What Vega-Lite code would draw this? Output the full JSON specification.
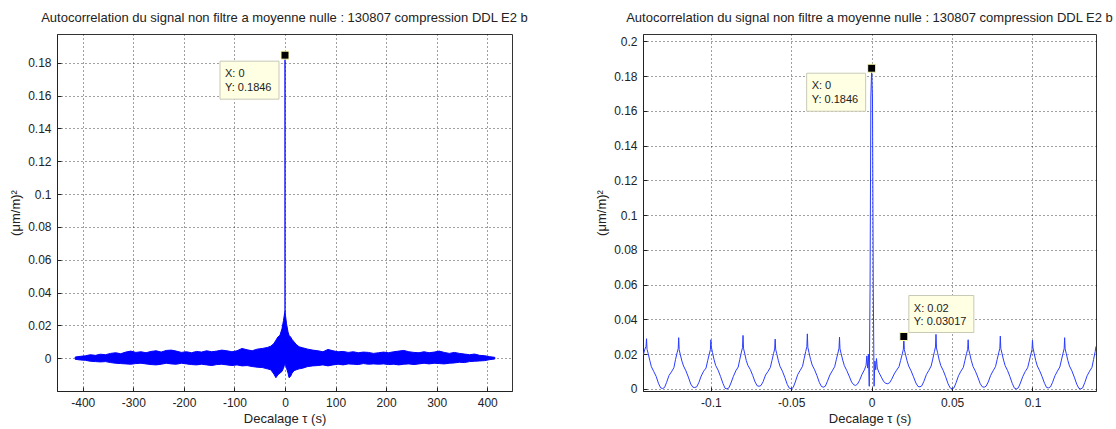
{
  "$schema": "https://vega.github.io/schema/vega-lite/v6.json",
  "background": "white",
  "padding": {"left": 8, "top": 11, "right": 0, "bottom": 0},
  "bounds": "flush",
  "spacing": 131,
  "config": {
    "font": "Liberation Sans",
    "view": {"stroke": "#333", "strokeWidth": 1},
    "axis": {
      "grid": true, "gridColor": "#000", "gridDash": [1, 3], "gridOpacity": 0.75, "gridWidth": 1,
      "domainColor": "#222", "tickColor": "#222", "tickSize": -4, "labelPadding": 10,
      "labelFontSize": 12, "labelColor": "#222", "titleFontSize": 13, "titleFontWeight": "normal", "titleColor": "#222",
      "labelFlush": false, "labelOverlap": false, "tickCount": 20,
      "labelExpr": "replace(format(datum.value, '~g'), '−', '-')"
    },
    "axisY": {"minExtent": 28, "maxExtent": 28, "titlePadding": 7},
    "axisX": {"titlePadding": 4},
    "title": {"fontSize": 13, "fontWeight": "normal", "color": "#222", "offset": 9}
  },
  "datasets": {
    "band": [
      {"tau": -415, "hi": 0.0008, "lo": -0.0006}, {"tau": -405, "hi": 0.0012, "lo": -0.0010}, {"tau": -395, "hi": 0.0015, "lo": -0.0012},
      {"tau": -385, "hi": 0.0022, "lo": -0.0018}, {"tau": -375, "hi": 0.0018, "lo": -0.0020}, {"tau": -365, "hi": 0.0025, "lo": -0.0022},
      {"tau": -355, "hi": 0.0022, "lo": -0.0020}, {"tau": -345, "hi": 0.0030, "lo": -0.0026}, {"tau": -335, "hi": 0.0034, "lo": -0.0030},
      {"tau": -325, "hi": 0.0028, "lo": -0.0032}, {"tau": -315, "hi": 0.0038, "lo": -0.0034}, {"tau": -305, "hi": 0.0044, "lo": -0.0036},
      {"tau": -295, "hi": 0.0036, "lo": -0.0032}, {"tau": -285, "hi": 0.0040, "lo": -0.0030}, {"tau": -275, "hi": 0.0034, "lo": -0.0034},
      {"tau": -265, "hi": 0.0042, "lo": -0.0038}, {"tau": -255, "hi": 0.0046, "lo": -0.0040}, {"tau": -245, "hi": 0.0038, "lo": -0.0036},
      {"tau": -235, "hi": 0.0048, "lo": -0.0030}, {"tau": -225, "hi": 0.0050, "lo": -0.0034}, {"tau": -215, "hi": 0.0044, "lo": -0.0036},
      {"tau": -205, "hi": 0.0036, "lo": -0.0030}, {"tau": -195, "hi": 0.0040, "lo": -0.0034}, {"tau": -185, "hi": 0.0034, "lo": -0.0038},
      {"tau": -175, "hi": 0.0042, "lo": -0.0040}, {"tau": -165, "hi": 0.0038, "lo": -0.0036}, {"tau": -155, "hi": 0.0046, "lo": -0.0040},
      {"tau": -145, "hi": 0.0040, "lo": -0.0044}, {"tau": -135, "hi": 0.0044, "lo": -0.0038}, {"tau": -125, "hi": 0.0050, "lo": -0.0036},
      {"tau": -115, "hi": 0.0046, "lo": -0.0040}, {"tau": -105, "hi": 0.0040, "lo": -0.0044}, {"tau": -95, "hi": 0.0046, "lo": -0.0040},
      {"tau": -85, "hi": 0.0060, "lo": -0.0046}, {"tau": -75, "hi": 0.0052, "lo": -0.0044}, {"tau": -65, "hi": 0.0046, "lo": -0.0050},
      {"tau": -55, "hi": 0.0056, "lo": -0.0054}, {"tau": -45, "hi": 0.0060, "lo": -0.0056}, {"tau": -35, "hi": 0.0066, "lo": -0.0064},
      {"tau": -28, "hi": 0.0074, "lo": -0.0070}, {"tau": -22, "hi": 0.0090, "lo": -0.0096}, {"tau": -18, "hi": 0.0110, "lo": -0.0118},
      {"tau": -14, "hi": 0.0130, "lo": -0.0100}, {"tau": -10, "hi": 0.0140, "lo": -0.0090}, {"tau": -6, "hi": 0.0180, "lo": -0.0080},
      {"tau": -3, "hi": 0.0230, "lo": -0.0060}, {"tau": -1, "hi": 0.0270, "lo": -0.0040}, {"tau": 0, "hi": 0.0285, "lo": -0.0030},
      {"tau": 1, "hi": 0.0260, "lo": -0.0040}, {"tau": 3, "hi": 0.0210, "lo": -0.0060}, {"tau": 6, "hi": 0.0160, "lo": -0.0090},
      {"tau": 8, "hi": 0.0140, "lo": -0.0118}, {"tau": 11, "hi": 0.0130, "lo": -0.0110}, {"tau": 14, "hi": 0.0115, "lo": -0.0090},
      {"tau": 18, "hi": 0.0100, "lo": -0.0075}, {"tau": 22, "hi": 0.0085, "lo": -0.0070}, {"tau": 28, "hi": 0.0070, "lo": -0.0064},
      {"tau": 35, "hi": 0.0064, "lo": -0.0060}, {"tau": 45, "hi": 0.0056, "lo": -0.0050}, {"tau": 55, "hi": 0.0050, "lo": -0.0046},
      {"tau": 65, "hi": 0.0046, "lo": -0.0044}, {"tau": 75, "hi": 0.0040, "lo": -0.0040}, {"tau": 85, "hi": 0.0054, "lo": -0.0046},
      {"tau": 95, "hi": 0.0046, "lo": -0.0040}, {"tau": 105, "hi": 0.0040, "lo": -0.0036}, {"tau": 115, "hi": 0.0042, "lo": -0.0040},
      {"tau": 125, "hi": 0.0036, "lo": -0.0034}, {"tau": 135, "hi": 0.0040, "lo": -0.0036}, {"tau": 145, "hi": 0.0034, "lo": -0.0038},
      {"tau": 155, "hi": 0.0038, "lo": -0.0032}, {"tau": 165, "hi": 0.0036, "lo": -0.0036}, {"tau": 175, "hi": 0.0030, "lo": -0.0034},
      {"tau": 185, "hi": 0.0034, "lo": -0.0036}, {"tau": 195, "hi": 0.0038, "lo": -0.0034}, {"tau": 205, "hi": 0.0034, "lo": -0.0038},
      {"tau": 215, "hi": 0.0040, "lo": -0.0036}, {"tau": 225, "hi": 0.0044, "lo": -0.0040}, {"tau": 235, "hi": 0.0048, "lo": -0.0036},
      {"tau": 245, "hi": 0.0040, "lo": -0.0034}, {"tau": 255, "hi": 0.0036, "lo": -0.0038}, {"tau": 265, "hi": 0.0034, "lo": -0.0034},
      {"tau": 275, "hi": 0.0040, "lo": -0.0030}, {"tau": 285, "hi": 0.0034, "lo": -0.0034}, {"tau": 295, "hi": 0.0038, "lo": -0.0030},
      {"tau": 305, "hi": 0.0044, "lo": -0.0032}, {"tau": 315, "hi": 0.0036, "lo": -0.0034}, {"tau": 325, "hi": 0.0030, "lo": -0.0030},
      {"tau": 335, "hi": 0.0036, "lo": -0.0028}, {"tau": 345, "hi": 0.0030, "lo": -0.0024}, {"tau": 355, "hi": 0.0026, "lo": -0.0026},
      {"tau": 365, "hi": 0.0022, "lo": -0.0020}, {"tau": 375, "hi": 0.0026, "lo": -0.0018}, {"tau": 385, "hi": 0.0018, "lo": -0.0016},
      {"tau": 395, "hi": 0.0016, "lo": -0.0014}, {"tau": 405, "hi": 0.0010, "lo": -0.0008}, {"tau": 415, "hi": 0.0006, "lo": -0.0004}
    ],
    "spike": [{"tau": 0, "lo": 0.028, "hi": 0.1846}],
    "tip0": [{"tau": 0, "r": 0.1846, "lx": "X: 0", "ly": "Y: 0.1846"}],
    "tip2": [{"tau": 0.02, "r": 0.03017, "lx": "X: 0.02", "ly": "Y: 0.03017"}],
    "zoom": [
      {"tau": -0.142, "r": 0.0195}, {"tau": -0.1412, "r": 0.0225}, {"tau": -0.1403, "r": 0.0245}, {"tau": -0.14, "r": 0.0289},
      {"tau": -0.1397, "r": 0.0228}, {"tau": -0.139, "r": 0.0205}, {"tau": -0.138, "r": 0.0165}, {"tau": -0.137, "r": 0.0128},
      {"tau": -0.1355, "r": 0.0100}, {"tau": -0.134, "r": 0.0072}, {"tau": -0.1325, "r": 0.0030}, {"tau": -0.1312, "r": 0.0006},
      {"tau": -0.13, "r": 0.0002}, {"tau": -0.1288, "r": 0.0008}, {"tau": -0.1275, "r": 0.0038}, {"tau": -0.126, "r": 0.0078},
      {"tau": -0.1245, "r": 0.0098}, {"tau": -0.123, "r": 0.0122}, {"tau": -0.122, "r": 0.0168}, {"tau": -0.121, "r": 0.0208},
      {"tau": -0.1203, "r": 0.0232}, {"tau": -0.12, "r": 0.0295},
      {"tau": -0.1197, "r": 0.0226}, {"tau": -0.119, "r": 0.0198}, {"tau": -0.118, "r": 0.0160}, {"tau": -0.117, "r": 0.0132},
      {"tau": -0.1155, "r": 0.0104}, {"tau": -0.114, "r": 0.0068}, {"tau": -0.1125, "r": 0.0028}, {"tau": -0.1112, "r": 0.0010},
      {"tau": -0.11, "r": 0.0008}, {"tau": -0.1088, "r": 0.0012}, {"tau": -0.1075, "r": 0.0036}, {"tau": -0.106, "r": 0.0074},
      {"tau": -0.1045, "r": 0.0102}, {"tau": -0.103, "r": 0.0120}, {"tau": -0.102, "r": 0.0162}, {"tau": -0.101, "r": 0.0200},
      {"tau": -0.1003, "r": 0.0226}, {"tau": -0.1, "r": 0.0283},
      {"tau": -0.0997, "r": 0.0240}, {"tau": -0.099, "r": 0.0210}, {"tau": -0.098, "r": 0.0168}, {"tau": -0.097, "r": 0.0135},
      {"tau": -0.0955, "r": 0.0108}, {"tau": -0.094, "r": 0.0072}, {"tau": -0.0925, "r": 0.0032}, {"tau": -0.0912, "r": 0.0004},
      {"tau": -0.09, "r": 0.0000}, {"tau": -0.0888, "r": 0.0006}, {"tau": -0.0875, "r": 0.0034}, {"tau": -0.086, "r": 0.0072},
      {"tau": -0.0845, "r": 0.0104}, {"tau": -0.083, "r": 0.0126}, {"tau": -0.082, "r": 0.0170}, {"tau": -0.081, "r": 0.0212},
      {"tau": -0.0803, "r": 0.0238}, {"tau": -0.08, "r": 0.0308},
      {"tau": -0.0797, "r": 0.0234}, {"tau": -0.079, "r": 0.0206}, {"tau": -0.078, "r": 0.0164}, {"tau": -0.077, "r": 0.0136},
      {"tau": -0.0755, "r": 0.0112}, {"tau": -0.074, "r": 0.0078}, {"tau": -0.0725, "r": 0.0040}, {"tau": -0.0712, "r": 0.0018},
      {"tau": -0.07, "r": 0.0015}, {"tau": -0.0688, "r": 0.0020}, {"tau": -0.0675, "r": 0.0042}, {"tau": -0.066, "r": 0.0080},
      {"tau": -0.0645, "r": 0.0100}, {"tau": -0.063, "r": 0.0124}, {"tau": -0.062, "r": 0.0164}, {"tau": -0.061, "r": 0.0204},
      {"tau": -0.0603, "r": 0.0230}, {"tau": -0.06, "r": 0.0287},
      {"tau": -0.0597, "r": 0.0228}, {"tau": -0.059, "r": 0.0202}, {"tau": -0.058, "r": 0.0162}, {"tau": -0.057, "r": 0.0130},
      {"tau": -0.0555, "r": 0.0102}, {"tau": -0.054, "r": 0.0066}, {"tau": -0.0525, "r": 0.0026}, {"tau": -0.0512, "r": 0.0004},
      {"tau": -0.05, "r": 0.0000}, {"tau": -0.0488, "r": 0.0008}, {"tau": -0.0475, "r": 0.0040}, {"tau": -0.046, "r": 0.0082},
      {"tau": -0.0445, "r": 0.0106}, {"tau": -0.043, "r": 0.0130}, {"tau": -0.042, "r": 0.0174}, {"tau": -0.041, "r": 0.0216},
      {"tau": -0.0403, "r": 0.0244}, {"tau": -0.04, "r": 0.0317},
      {"tau": -0.0397, "r": 0.0240}, {"tau": -0.039, "r": 0.0210}, {"tau": -0.038, "r": 0.0170}, {"tau": -0.037, "r": 0.0138},
      {"tau": -0.0355, "r": 0.0110}, {"tau": -0.034, "r": 0.0076}, {"tau": -0.0325, "r": 0.0036}, {"tau": -0.0312, "r": 0.0014},
      {"tau": -0.03, "r": 0.0010}, {"tau": -0.0288, "r": 0.0016}, {"tau": -0.0275, "r": 0.0044}, {"tau": -0.026, "r": 0.0080},
      {"tau": -0.0245, "r": 0.0104}, {"tau": -0.023, "r": 0.0128}, {"tau": -0.022, "r": 0.0168}, {"tau": -0.021, "r": 0.0206},
      {"tau": -0.0203, "r": 0.0234}, {"tau": -0.02, "r": 0.0298},
      {"tau": -0.0197, "r": 0.0230}, {"tau": -0.019, "r": 0.0204}, {"tau": -0.018, "r": 0.0166}, {"tau": -0.017, "r": 0.0134},
      {"tau": -0.0155, "r": 0.0106}, {"tau": -0.014, "r": 0.0074}, {"tau": -0.0125, "r": 0.0040}, {"tau": -0.0112, "r": 0.0024},
      {"tau": -0.01, "r": 0.0020}, {"tau": -0.0088, "r": 0.0028}, {"tau": -0.0075, "r": 0.0050}, {"tau": -0.006, "r": 0.0084},
      {"tau": -0.0045, "r": 0.0110}, {"tau": -0.0035, "r": 0.0135}, {"tau": -0.003, "r": 0.0190}, {"tau": -0.0025, "r": 0.0120},
      {"tau": -0.002, "r": 0.0200}, {"tau": -0.0015, "r": 0.0015}, {"tau": -0.001, "r": 0.0580}, {"tau": -0.0005, "r": 0.1680},
      {"tau": 0, "r": 0.1846}, {"tau": 0.0005, "r": 0.1680}, {"tau": 0.001, "r": 0.0580}, {"tau": 0.0015, "r": 0.0015},
      {"tau": 0.002, "r": 0.0160}, {"tau": 0.0025, "r": 0.0110}, {"tau": 0.003, "r": 0.0175}, {"tau": 0.0035, "r": 0.0120},
      {"tau": 0.0045, "r": 0.0095}, {"tau": 0.006, "r": 0.0068}, {"tau": 0.0075, "r": 0.0042}, {"tau": 0.0088, "r": 0.0032},
      {"tau": 0.01, "r": 0.0030}, {"tau": 0.0112, "r": 0.0036}, {"tau": 0.0125, "r": 0.0056}, {"tau": 0.014, "r": 0.0086},
      {"tau": 0.0155, "r": 0.0108}, {"tau": 0.017, "r": 0.0128}, {"tau": 0.018, "r": 0.0164}, {"tau": 0.019, "r": 0.0200},
      {"tau": 0.0197, "r": 0.0228}, {"tau": 0.02, "r": 0.0302},
      {"tau": 0.0203, "r": 0.0226}, {"tau": 0.021, "r": 0.0200}, {"tau": 0.022, "r": 0.0162}, {"tau": 0.023, "r": 0.0132},
      {"tau": 0.0245, "r": 0.0104}, {"tau": 0.026, "r": 0.0070}, {"tau": 0.0275, "r": 0.0034}, {"tau": 0.0288, "r": 0.0014},
      {"tau": 0.03, "r": 0.0012}, {"tau": 0.0312, "r": 0.0018}, {"tau": 0.0325, "r": 0.0044}, {"tau": 0.034, "r": 0.0082},
      {"tau": 0.0355, "r": 0.0106}, {"tau": 0.037, "r": 0.0132}, {"tau": 0.038, "r": 0.0172}, {"tau": 0.039, "r": 0.0214},
      {"tau": 0.0397, "r": 0.0242}, {"tau": 0.04, "r": 0.0314},
      {"tau": 0.0403, "r": 0.0236}, {"tau": 0.041, "r": 0.0208}, {"tau": 0.042, "r": 0.0166}, {"tau": 0.043, "r": 0.0134},
      {"tau": 0.0445, "r": 0.0106}, {"tau": 0.046, "r": 0.0070}, {"tau": 0.0475, "r": 0.0030}, {"tau": 0.0488, "r": 0.0006},
      {"tau": 0.05, "r": 0.0000}, {"tau": 0.0512, "r": 0.0006}, {"tau": 0.0525, "r": 0.0036}, {"tau": 0.054, "r": 0.0076},
      {"tau": 0.0555, "r": 0.0102}, {"tau": 0.057, "r": 0.0124}, {"tau": 0.058, "r": 0.0164}, {"tau": 0.059, "r": 0.0204},
      {"tau": 0.0597, "r": 0.0228}, {"tau": 0.06, "r": 0.0283},
      {"tau": 0.0603, "r": 0.0228}, {"tau": 0.061, "r": 0.0202}, {"tau": 0.062, "r": 0.0162}, {"tau": 0.063, "r": 0.0130},
      {"tau": 0.0645, "r": 0.0102}, {"tau": 0.066, "r": 0.0068}, {"tau": 0.0675, "r": 0.0030}, {"tau": 0.0688, "r": 0.0012},
      {"tau": 0.07, "r": 0.0010}, {"tau": 0.0712, "r": 0.0016}, {"tau": 0.0725, "r": 0.0040}, {"tau": 0.074, "r": 0.0078},
      {"tau": 0.0755, "r": 0.0104}, {"tau": 0.077, "r": 0.0128}, {"tau": 0.078, "r": 0.0168}, {"tau": 0.079, "r": 0.0208},
      {"tau": 0.0797, "r": 0.0234}, {"tau": 0.08, "r": 0.0304},
      {"tau": 0.0803, "r": 0.0232}, {"tau": 0.081, "r": 0.0206}, {"tau": 0.082, "r": 0.0166}, {"tau": 0.083, "r": 0.0134},
      {"tau": 0.0845, "r": 0.0106}, {"tau": 0.086, "r": 0.0070}, {"tau": 0.0875, "r": 0.0030}, {"tau": 0.0888, "r": 0.0004},
      {"tau": 0.09, "r": 0.0000}, {"tau": 0.0912, "r": 0.0006}, {"tau": 0.0925, "r": 0.0034}, {"tau": 0.094, "r": 0.0072},
      {"tau": 0.0955, "r": 0.0100}, {"tau": 0.097, "r": 0.0122}, {"tau": 0.098, "r": 0.0160}, {"tau": 0.099, "r": 0.0200},
      {"tau": 0.0997, "r": 0.0226}, {"tau": 0.1, "r": 0.0280},
      {"tau": 0.1003, "r": 0.0238}, {"tau": 0.101, "r": 0.0206}, {"tau": 0.102, "r": 0.0164}, {"tau": 0.103, "r": 0.0132},
      {"tau": 0.1045, "r": 0.0104}, {"tau": 0.106, "r": 0.0070}, {"tau": 0.1075, "r": 0.0032}, {"tau": 0.1088, "r": 0.0008},
      {"tau": 0.11, "r": 0.0006}, {"tau": 0.1112, "r": 0.0012}, {"tau": 0.1125, "r": 0.0038}, {"tau": 0.114, "r": 0.0076},
      {"tau": 0.1155, "r": 0.0102}, {"tau": 0.117, "r": 0.0126}, {"tau": 0.118, "r": 0.0166}, {"tau": 0.119, "r": 0.0206},
      {"tau": 0.1197, "r": 0.0232}, {"tau": 0.12, "r": 0.0295},
      {"tau": 0.1203, "r": 0.0230}, {"tau": 0.121, "r": 0.0204}, {"tau": 0.122, "r": 0.0164}, {"tau": 0.123, "r": 0.0132},
      {"tau": 0.1245, "r": 0.0104}, {"tau": 0.126, "r": 0.0068}, {"tau": 0.1275, "r": 0.0028}, {"tau": 0.1288, "r": 0.0004},
      {"tau": 0.13, "r": 0.0000}, {"tau": 0.1312, "r": 0.0006}, {"tau": 0.1325, "r": 0.0036}, {"tau": 0.134, "r": 0.0076},
      {"tau": 0.1355, "r": 0.0102}, {"tau": 0.137, "r": 0.0124}, {"tau": 0.138, "r": 0.0170}, {"tau": 0.139, "r": 0.0215},
      {"tau": 0.1395, "r": 0.0245}
    ]
  },
  "hconcat": [
    {
      "width": 455, "height": 357,
      "title": "Autocorrelation du signal non filtre a moyenne nulle : 130807 compression DDL E2 b",
      "layer": [
        {
          "data": {"name": "band"},
          "mark": {"type": "area", "color": "#0000ff", "clip": true, "stroke": "#0000ff", "strokeWidth": 1},
          "encoding": {
            "x": {"field": "tau", "type": "quantitative", "title": "Decalage τ (s)",
                  "scale": {"domain": [-451, 449], "nice": false, "zero": false},
                  "axis": {"values": [-400, -300, -200, -100, 0, 100, 200, 300, 400], "labelOverlap": false, "tickCount": 20}},
            "y": {"field": "hi", "type": "quantitative", "title": "(μm/m)²",
                  "scale": {"domain": [-0.0199, 0.1975], "nice": false, "zero": false},
                  "axis": {"values": [0, 0.02, 0.04, 0.06, 0.08, 0.1, 0.12, 0.14, 0.16, 0.18], "labelOverlap": false, "tickCount": 20}},
            "y2": {"field": "lo"}
          }
        },
        {
          "data": {"name": "spike"},
          "mark": {"type": "rule", "color": "#0000ff", "strokeWidth": 1.3},
          "encoding": {
            "x": {"field": "tau", "type": "quantitative"},
            "y": {"field": "lo", "type": "quantitative"},
            "y2": {"field": "hi"}
          }
        },
        {
          "data": {"name": "tip0"},
          "mark": {"type": "rect", "fill": "#ffffe4", "stroke": "#c9c9b8", "strokeWidth": 1,
                   "xOffset": -65, "x2Offset": -6, "yOffset": 6, "y2Offset": 44},
          "encoding": {
            "x": {"field": "tau", "type": "quantitative"}, "x2": {"field": "tau"},
            "y": {"field": "r", "type": "quantitative"}, "y2": {"field": "r"}
          }
        },
        {
          "data": {"name": "tip0"},
          "mark": {"type": "text", "align": "left", "baseline": "middle", "dx": -60, "dy": 19, "fontSize": 11, "color": "#222"},
          "encoding": {
            "x": {"field": "tau", "type": "quantitative"}, "y": {"field": "r", "type": "quantitative"},
            "text": {"field": "lx"}
          }
        },
        {
          "data": {"name": "tip0"},
          "mark": {"type": "text", "align": "left", "baseline": "middle", "dx": -60, "dy": 33, "fontSize": 11, "color": "#222"},
          "encoding": {
            "x": {"field": "tau", "type": "quantitative"}, "y": {"field": "r", "type": "quantitative"},
            "text": {"field": "ly"}
          }
        },
        {
          "data": {"name": "tip0"},
          "mark": {"type": "point", "shape": "square", "filled": true, "size": 64, "color": "#000", "stroke": "#ffffb0", "strokeWidth": 1, "opacity": 1},
          "encoding": {
            "x": {"field": "tau", "type": "quantitative"}, "y": {"field": "r", "type": "quantitative"}
          }
        }
      ]
    },
    {
      "width": 453, "height": 357,
      "title": "Autocorrelation du signal non filtre a moyenne nulle : 130807 compression DDL E2 b",
      "layer": [
        {
          "data": {"name": "zoom"},
          "mark": {"type": "line", "color": "#2a3cff", "strokeWidth": 1, "clip": true},
          "encoding": {
            "x": {"field": "tau", "type": "quantitative", "title": "Decalage τ (s)",
                  "scale": {"domain": [-0.1422, 0.1395], "nice": false, "zero": false},
                  "axis": {"values": [-0.1, -0.05, 0, 0.05, 0.1], "labelOverlap": false, "tickCount": 20}},
            "y": {"field": "r", "type": "quantitative", "title": "(μm/m)²",
                  "scale": {"domain": [-0.0012, 0.2043], "nice": false, "zero": false},
                  "axis": {"values": [0, 0.02, 0.04, 0.06, 0.08, 0.1, 0.12, 0.14, 0.16, 0.18, 0.2], "labelOverlap": false, "tickCount": 20}}
          }
        },
        {
          "data": {"name": "tip0"},
          "mark": {"type": "rect", "fill": "#ffffe4", "stroke": "#c9c9b8", "strokeWidth": 1,
                   "xOffset": -65, "x2Offset": -6, "yOffset": 5, "y2Offset": 43},
          "encoding": {
            "x": {"field": "tau", "type": "quantitative"}, "x2": {"field": "tau"},
            "y": {"field": "r", "type": "quantitative"}, "y2": {"field": "r"}
          }
        },
        {
          "data": {"name": "tip0"},
          "mark": {"type": "text", "align": "left", "baseline": "middle", "dx": -60, "dy": 18, "fontSize": 11, "color": "#222"},
          "encoding": {
            "x": {"field": "tau", "type": "quantitative"}, "y": {"field": "r", "type": "quantitative"},
            "text": {"field": "lx"}
          }
        },
        {
          "data": {"name": "tip0"},
          "mark": {"type": "text", "align": "left", "baseline": "middle", "dx": -60, "dy": 32, "fontSize": 11, "color": "#222"},
          "encoding": {
            "x": {"field": "tau", "type": "quantitative"}, "y": {"field": "r", "type": "quantitative"},
            "text": {"field": "ly"}
          }
        },
        {
          "data": {"name": "tip2"},
          "mark": {"type": "rect", "fill": "#ffffe4", "stroke": "#c9c9b8", "strokeWidth": 1,
                   "xOffset": 5, "x2Offset": 70, "yOffset": -41, "y2Offset": -4},
          "encoding": {
            "x": {"field": "tau", "type": "quantitative"}, "x2": {"field": "tau"},
            "y": {"field": "r", "type": "quantitative"}, "y2": {"field": "r"}
          }
        },
        {
          "data": {"name": "tip2"},
          "mark": {"type": "text", "align": "left", "baseline": "middle", "dx": 10, "dy": -28, "fontSize": 11, "color": "#222"},
          "encoding": {
            "x": {"field": "tau", "type": "quantitative"}, "y": {"field": "r", "type": "quantitative"},
            "text": {"field": "lx"}
          }
        },
        {
          "data": {"name": "tip2"},
          "mark": {"type": "text", "align": "left", "baseline": "middle", "dx": 10, "dy": -15, "fontSize": 11, "color": "#222"},
          "encoding": {
            "x": {"field": "tau", "type": "quantitative"}, "y": {"field": "r", "type": "quantitative"},
            "text": {"field": "ly"}
          }
        },
        {
          "data": {"values": [{"tau": 0, "r": 0.1846}, {"tau": 0.02, "r": 0.03017}]},
          "mark": {"type": "point", "shape": "square", "filled": true, "size": 64, "color": "#000", "stroke": "#ffffb0", "strokeWidth": 1, "opacity": 1},
          "encoding": {
            "x": {"field": "tau", "type": "quantitative"}, "y": {"field": "r", "type": "quantitative"}
          }
        }
      ]
    }
  ]
}
